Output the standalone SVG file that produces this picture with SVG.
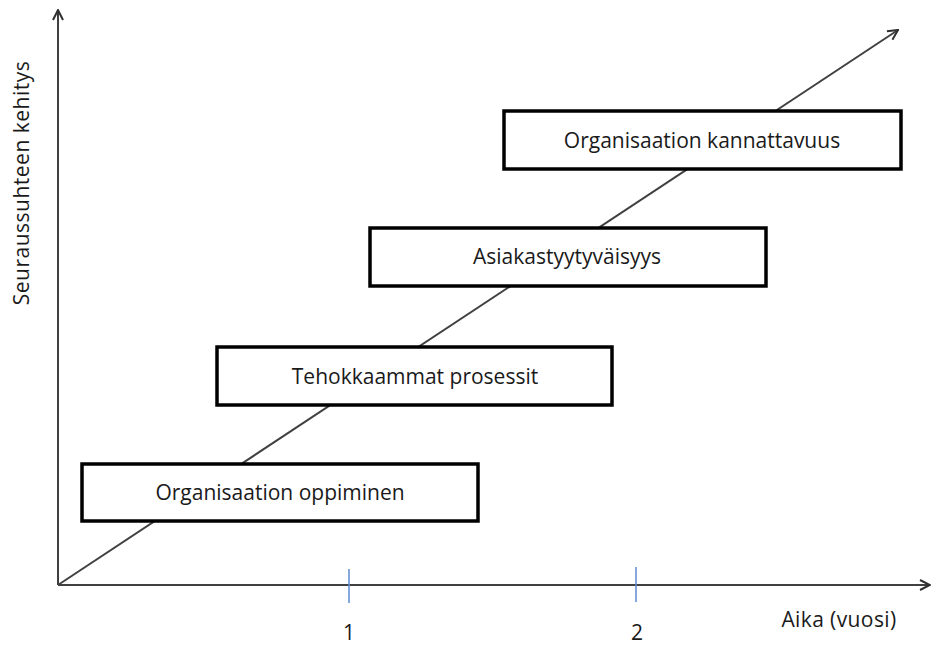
<svg xmlns="http://www.w3.org/2000/svg" width="934" height="646" viewBox="0 0 934 646">
<style>
.ax{stroke:#404040;stroke-width:2;fill:none}
.tick{stroke:#5b8ad0;stroke-width:1.5}
.box{fill:#fff;stroke:#000;stroke-width:3.5}
.t{font-family:"Open Sans","Noto Sans",sans-serif;font-size:21px;fill:#1a1a1a}
</style>
<defs>
<marker id="open" viewBox="0 0 12 12" refX="11" refY="6" markerWidth="12" markerHeight="12" markerUnits="userSpaceOnUse" orient="auto">
<path d="M1,1 L11,6 L1,11" fill="none" stroke="#303030" stroke-width="2"/>
</marker>
</defs>
<g id="connectors">
<line class="ax" x1="58" y1="585" x2="58" y2="10" marker-end="url(#open)"/>
<line class="ax" x1="58" y1="585" x2="930" y2="585" marker-end="url(#open)"/>
<line class="ax" x1="58" y1="585" x2="898" y2="30" stroke-width="1.8" marker-end="url(#open)"/>
<line class="tick" x1="349" y1="569" x2="349" y2="603"/>
<line class="tick" x1="636" y1="567" x2="636" y2="602"/>
</g>
<g id="labels">
<text class="t" x="349" y="640" text-anchor="middle">1</text>
<text class="t" x="637" y="640" text-anchor="middle">2</text>
<text class="t" x="839" y="627" text-anchor="middle" letter-spacing="0.4">Aika (vuosi)</text>
<text class="t" x="0" y="0" text-anchor="middle" letter-spacing="0.5" transform="translate(29,183) rotate(-90)">Seuraussuhteen kehitys</text>
</g>
<g id="n1"><rect class="box" x="82" y="464" width="396" height="57"/><text class="t" x="280" y="500" text-anchor="middle">Organisaation oppiminen</text></g>
<g id="n2"><rect class="box" x="217" y="347" width="395" height="58"/><text class="t" x="415" y="384" text-anchor="middle">Tehokkaammat prosessit</text></g>
<g id="n3"><rect class="box" x="370" y="228" width="396" height="58"/><text class="t" x="567" y="264" text-anchor="middle">Asiakastyytyväisyys</text></g>
<g id="n4"><rect class="box" x="504" y="111" width="397" height="58"/><text class="t" x="702" y="148" text-anchor="middle">Organisaation kannattavuus</text></g>
</svg>
